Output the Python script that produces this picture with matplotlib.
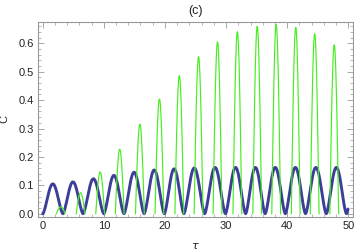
import numpy as np
import matplotlib
matplotlib.use("Agg")
import matplotlib.pyplot as plt
from matplotlib.ticker import MultipleLocator

# --- data ---
# blue curve: times of its zeros and height of each arch between them
blue_zero_t = [0.0, 3.3, 6.6, 10.0, 13.3, 16.6, 19.9, 23.1, 26.5, 29.9, 33.2,
               36.4, 39.7, 43.0, 46.4, 49.7, 53.0]
blue_peak_c = [0.105, 0.112, 0.123, 0.135, 0.146, 0.154, 0.158, 0.161, 0.163,
               0.163, 0.163, 0.163, 0.163, 0.163, 0.163, 0.163]
# green curve: narrow lobes (peak time, peak height)
green_peak_t = [2.95, 6.2, 9.4, 12.6, 15.9, 19.1, 22.35, 25.5, 28.6, 31.85,
                35.1, 38.2, 41.4, 44.5, 47.7]
green_peak_c = [0.024, 0.074, 0.147, 0.227, 0.315, 0.404, 0.486, 0.553, 0.605,
                0.641, 0.660, 0.666, 0.656, 0.634, 0.595]
green_half_width = 0.72

x_ticks = [0, 10, 20, 30, 40, 50]
y_ticks = [0.0, 0.1, 0.2, 0.3, 0.4, 0.5, 0.6]
title = "(c)"
xlabel = r"$\tau$"
ylabel = "C"

plt.rcParams['font.family'] = ['Liberation Sans', 'DejaVu Sans']

fig = plt.figure(figsize=(3.54, 2.52), dpi=100)
ax = fig.add_axes([0.1065, 0.14, 0.8898, 0.7727])

# blue arches
bt, bc = [], []
for i, h in enumerate(blue_peak_c):
    a, b = blue_zero_t[i], blue_zero_t[i + 1]
    s = np.linspace(0, 1, 40)
    bt.extend(a + (b - a) * s)
    bc.extend(h * np.abs(np.sin(np.pi * s)) ** 1.6)
bt = np.array(bt); bc = np.array(bc)
m = bt <= 50
ax.plot(bt[m], bc[m], color='#3c3e99', lw=2.1, solid_capstyle='round', zorder=2)

# green lobes
for tp, h in zip(green_peak_t, green_peak_c):
    s = np.linspace(-1, 1, 40)
    t = tp + green_half_width * s
    c = h * np.cos(np.pi / 2 * s)
    ax.plot(t, c, color='#45ee1f', lw=0.85, zorder=3)

ax.set_xlim(-0.82, 50.72)
ax.set_ylim(-0.0106, 0.675)
ax.set_xticks(x_ticks)
ax.set_yticks(y_ticks)
ax.set_yticklabels([f"{v:.1f}" for v in y_ticks])
ax.xaxis.set_minor_locator(MultipleLocator(2))
ax.yaxis.set_minor_locator(MultipleLocator(0.02))
ax.tick_params(which='both', direction='in', top=True, right=True,
               color='#999999', labelsize=8, labelcolor='#222222', pad=3)
ax.tick_params(which='major', length=4, width=0.6)
ax.tick_params(which='minor', length=2, width=0.5)
for sp in ax.spines.values():
    sp.set_color('#999999')
    sp.set_linewidth(0.8)

ax.set_title(title, fontsize=9, color='#222222', pad=6)
ax.set_xlabel(xlabel, fontsize=8, color='#222222', labelpad=7)
ax.set_ylabel(ylabel, fontsize=8, color='#222222', labelpad=6)

fig.savefig("out.png", dpi=100)
